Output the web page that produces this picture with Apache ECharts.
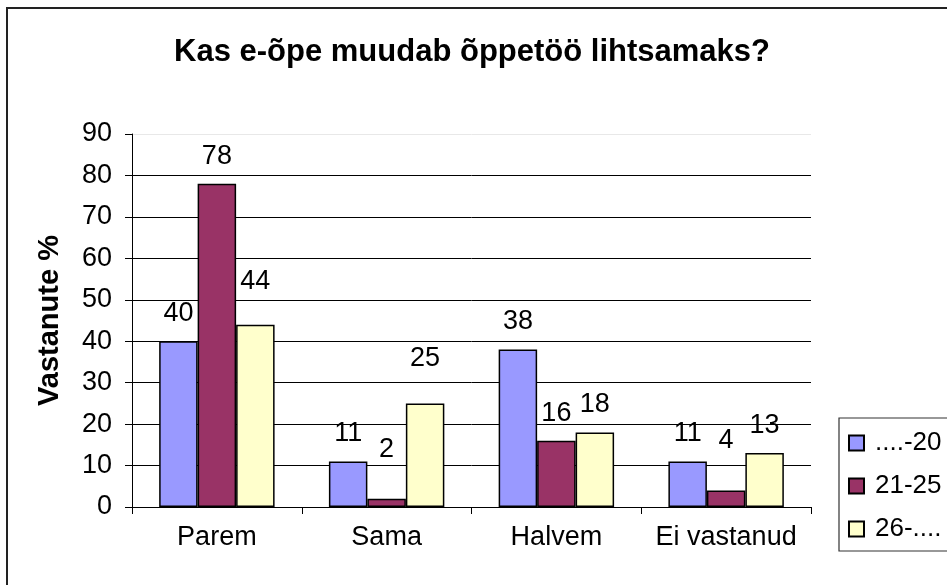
<!DOCTYPE html>
<html>
<head>
<meta charset="utf-8">
<script src="https://cdn.jsdelivr.net/npm/echarts@6/dist/echarts.min.js"></script>
<style>html,body{margin:0;padding:0;background:#fff}#c{width:947px;height:585px}</style>
</head>
<body>
<div id="c"></div>
<script>
const titleText = 'Kas e-õpe muudab õppetöö lihtsamaks?';
const yName = 'Vastanute %';
const categories = ['Parem', 'Sama', 'Halvem', 'Ei vastanud'];
const seriesNames = ['....-20', '21-25', '26-....'];
const s1 = [40, 11, 38, 11];
const s2 = [78, 2, 16, 4];
const s3 = [44, 25, 18, 13];
const yTicks = [0, 10, 20, 30, 40, 50, 60, 70, 80, 90];

const colors = ['#9999FF', '#993366', '#FFFFCC'];
const font = 'Liberation Sans, Arial, sans-serif';
// extra upward label lift (px) per series / category, as placed in the original
const lift = [[0, 0, 0, 0], [0, 22, 0, 22], [16, 17, 0, 0]];

const values = [s1, s2, s3];
const chart = echarts.init(document.getElementById('c'));
chart.setOption({
  animation: false,
  backgroundColor: '#fff',
  title: {
    text: titleText, left: 467, top: 32, textAlign: 'center',
    textStyle: { fontFamily: font, fontSize: 31, fontWeight: 'bold', color: '#000' }
  },
  graphic: [{
    type: 'rect', z: -1,
    shape: { x: 7, y: 8, width: 1100, height: 1100 },
    style: { fill: 'none', stroke: '#222', lineWidth: 2 }
  }, {
    type: 'rect', z: 1,
    shape: { x: 839, y: 418, width: 200, height: 133 },
    style: { fill: 'none', stroke: '#333', lineWidth: 1.2 }
  }],
  legend: {
    orient: 'vertical', left: 839, top: 418,
    padding: [12, 0, 8, 9], itemGap: 17, itemWidth: 15, itemHeight: 15,
    icon: 'rect',
    textStyle: { fontFamily: font, fontSize: 26, color: '#000', padding: [0, 0, 0, 6] },
    data: seriesNames
  },
  grid: { left: 132, right: 136, top: 134, bottom: 78 },
  xAxis: {
    type: 'category', data: categories,
    axisLine: { lineStyle: { color: '#000', width: 1 } },
    axisTick: { show: true, length: 7, lineStyle: { color: '#000' } },
    axisLabel: { interval: 0, fontFamily: font, fontSize: 27, color: '#000', margin: 17 }
  },
  yAxis: {
    type: 'value', min: yTicks[0], max: yTicks[yTicks.length - 1], interval: 10,
    name: yName, nameLocation: 'middle', nameGap: 68, nameRotate: 90,
    nameTextStyle: { fontFamily: font, fontSize: 29, fontWeight: 'bold', color: '#000' },
    axisLine: { show: true, lineStyle: { color: '#000', width: 1 } },
    axisTick: { show: true, length: 7, lineStyle: { color: '#000' } },
    axisLabel: { fontFamily: font, fontSize: 27, color: '#000', margin: 20 },
    splitLine: { show: true, lineStyle: { color: ['#000','#000','#000','#000','#000','#000','#000','#000','#000','#e8e8e8'], width: 1 } }
  },
  series: seriesNames.map((n, i) => ({
    type: 'bar', name: n,
    barGap: '0%', barCategoryGap: '32%',
    itemStyle: { color: colors[i], borderColor: '#000', borderWidth: 1.5 },
    label: { show: true, position: 'top', distance: 14, fontFamily: font, fontSize: 27, color: '#000' },
    data: values[i].map((v, j) => lift[i][j] ? { value: v, label: { distance: 14 + lift[i][j] } } : v)
  }))
});
</script>
</body>
</html>
